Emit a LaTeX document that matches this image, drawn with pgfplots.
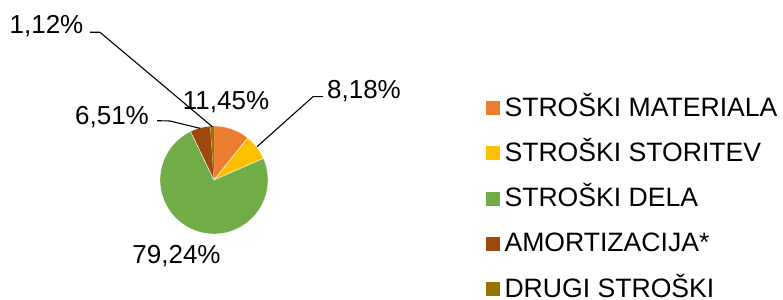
\documentclass[border=0pt]{standalone}
\usepackage{fontspec}
\setmainfont{Liberation Sans}
\usepackage{pgfplots}
\pgfplotsset{compat=1.18}
\usepackage{pgfplotstable}

\definecolor{cMat}{HTML}{ED7D31}
\definecolor{cSto}{HTML}{FFC000}
\definecolor{cDel}{HTML}{70AD47}
\definecolor{cAmo}{HTML}{9E480E}
\definecolor{cDru}{HTML}{997300}

\pgfplotstableread{
idx pct
0 11.45
1 8.18
2 79.24
3 6.51
4 1.12
}\costs

\pgfplotstablegetelem{0}{pct}\of\costs \let\pA\pgfplotsretval
\pgfplotstablegetelem{1}{pct}\of\costs \let\pB\pgfplotsretval
\pgfplotstablegetelem{2}{pct}\of\costs \let\pC\pgfplotsretval
\pgfplotstablegetelem{3}{pct}\of\costs \let\pD\pgfplotsretval
\pgfplotstablegetelem{4}{pct}\of\costs \let\pE\pgfplotsretval

\newcommand\bigfont{\fontsize{26bp}{30bp}\selectfont}
\newcommand\legfont{\fontsize{26.6bp}{30bp}\selectfont}

\begin{document}
\begin{tikzpicture}
\path[use as bounding box] (0,0) rectangle (783bp,300bp);
\pgfmathsetmacro\tot{\pA+\pB+\pC+\pD+\pE}
\pgfmathsetmacro\aA{90}
\pgfmathsetmacro\aB{\aA-360*(\pA/\tot)}
\pgfmathsetmacro\aC{\aB-360*(\pB/\tot)}
\pgfmathsetmacro\aD{\aC-360*(\pC/\tot)}
\pgfmathsetmacro\aE{\aD-360*(\pD/\tot)}
\pgfmathsetmacro\aF{\aE-360*(\pE/\tot)}
\begin{axis}[
  at={(0,0)}, anchor=south west,
  scale only axis, width=783bp, height=300bp,
  xmin=0, xmax=783, ymin=0, ymax=300,
  hide axis, clip=false,
  legend image code/.code={\fill[#1,draw=none] (0bp,-7bp) rectangle (14bp,7bp);},
  legend cell align=left,
  legend style={at={(axis cs:486,205)}, anchor=north west, draw=none, fill=none,
    inner sep=0pt, outer sep=0pt, row sep=19.25bp, column sep=4.5bp,
    font=\legfont,
    nodes={inner sep=0pt, text height=21bp, text depth=5bp}},
  slice/.style={draw=white, line width=0.4bp, samples=60, variable=\t},
]
\addplot[slice, fill=cMat, domain=\aB:\aA] ({214+54*cos(\t)},{120+54*sin(\t)}) -- (axis cs:214,120) -- cycle;
\addlegendentry{STROŠKI MATERIALA}
\addplot[slice, fill=cSto, domain=\aC:\aB] ({214+54*cos(\t)},{120+54*sin(\t)}) -- (axis cs:214,120) -- cycle;
\addlegendentry{STROŠKI STORITEV}
\addplot[slice, fill=cDel, domain=\aD:\aC, samples=150] ({214+54*cos(\t)},{120+54*sin(\t)}) -- (axis cs:214,120) -- cycle;
\addlegendentry{STROŠKI DELA}
\addplot[slice, fill=cAmo, domain=\aE:\aD] ({214+54*cos(\t)},{120+54*sin(\t)}) -- (axis cs:214,120) -- cycle;
\addlegendentry{AMORTIZACIJA*}
\addplot[slice, fill=cDru, draw=none, domain=\aF:\aE, samples=10] ({214+54*cos(\t)},{120+54*sin(\t)}) -- (axis cs:214,120) -- cycle;
\addlegendentry{DRUGI STROŠKI}

% leader lines
\addplot[black, line width=1.1bp, forget plot] coordinates {(90,267.7) (100,267.7) (212.3,173.3)};
\addplot[black, line width=1.1bp, forget plot] coordinates {(323,203.3) (313,203.3) (257,153.3)};
\addplot[black, line width=1.1bp, forget plot] coordinates {(157,179.3) (170,179) (200,171.7)};

% data labels
\node[anchor=base, inner sep=0pt, font=\bigfont] at (axis cs:46.5,267) {1,12\%};
\node[anchor=base, inner sep=0pt, font=\bigfont] at (axis cs:226,191) {11,45\%};
\node[anchor=base, inner sep=0pt, font=\bigfont] at (axis cs:364,202) {8,18\%};
\node[anchor=base, inner sep=0pt, font=\bigfont] at (axis cs:112,176) {6,51\%};
\node[anchor=base, inner sep=0pt, font=\bigfont] at (axis cs:176.5,37) {79,24\%};
\end{axis}
\end{tikzpicture}
\end{document}
